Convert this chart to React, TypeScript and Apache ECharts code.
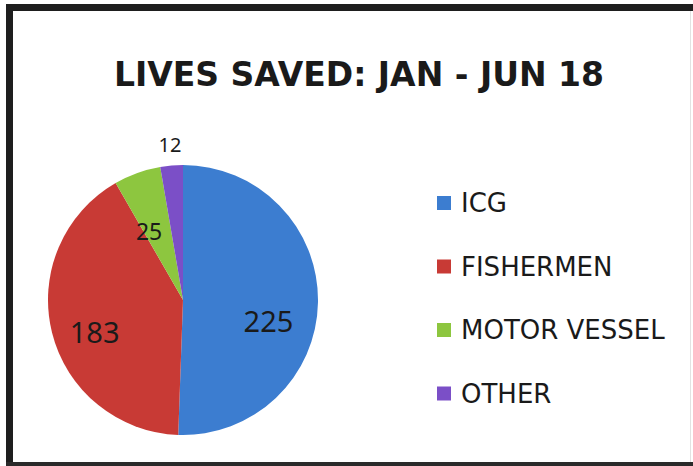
import React, { useEffect, useRef } from "react";
import * as echarts from "echarts";

const categories = ["ICG", "FISHERMEN", "MOTOR VESSEL", "OTHER"];
const values = [225, 183, 25, 12];
const colors = ["#3c7dd0", "#c83a35", "#8dc63f", "#7b4fc7"];
const titleText = "LIVES SAVED: JAN - JUN 18";

// label nudges (dx, dy) per slice, to mimic the original label placement
const labelShift = [
  [15, 19],
  [-20, 14],
  [-10, -3],
  [-7, -85],
];
const labelSizes = [29, 29, 23, 20];

export default function App() {
  const ref = useRef<HTMLDivElement>(null);
  useEffect(() => {
    const chart = echarts.init(ref.current!, null, { renderer: "svg" });
    chart.setOption({
      animation: false,
      backgroundColor: "#ffffff",
      title: {
        text: titleText,
        left: 354,
        textAlign: "center",
        top: 53,
        textStyle: {
          fontFamily: "DejaVu Sans",
          fontWeight: "bold",
          fontSize: 33,
          color: "#1a1a1a",
        },
      },
      graphic: [
        {
          type: "rect",
          shape: { x: 6, y: 4, width: 687, height: 7 },
          style: { fill: "#1e1e1e" },
          z: -10,
          silent: true,
        },
        {
          type: "rect",
          shape: { x: 6, y: 4, width: 7, height: 462 },
          style: { fill: "#1e1e1e" },
          z: -10,
          silent: true,
        },
        {
          type: "rect",
          shape: { x: 6, y: 462, width: 687, height: 4 },
          style: { fill: "#2a2a2a" },
          z: -10,
          silent: true,
        },
        {
          type: "line",
          shape: { x1: 690.5, y1: 11, x2: 690.5, y2: 462 },
          style: { stroke: "#e2e2e2", lineWidth: 1 },
          z: -10,
          silent: true,
        },
      ],
      legend: {
        orient: "vertical",
        left: 432,
        top: 183,
        itemWidth: 14,
        itemHeight: 14,
        itemGap: 33.5,
        icon: "rect",
        data: categories,
        textStyle: {
          fontFamily: "DejaVu Sans",
          fontSize: 26,
          lineHeight: 30,
          color: "#1a1a1a",
          padding: [0, 0, 0, 5],
        },
      },
      series: [
        {
          type: "pie",
          center: [183, 300],
          radius: [0, 135],
          startAngle: 90,
          clockwise: true,
          data: categories.map((c, i) => ({
            name: c,
            value: values[i],
            itemStyle: { color: colors[i] },
            label: { fontSize: labelSizes[i] },
          })),
          label: {
            show: true,
            position: "inside",
            formatter: "{c}",
            fontFamily: "Noto Sans",
            color: "#1a1a1a",
          },
          labelLine: { show: false },
          labelLayout: (p: any) => ({
            dx: labelShift[p.dataIndex][0],
            dy: labelShift[p.dataIndex][1],
          }),
          emphasis: { disabled: true },
        },
      ],
    });
    return () => chart.dispose();
  }, []);
  return (
    <div
      ref={ref}
      style={{ position: "fixed", left: 0, top: 0, width: 693, height: 466 }}
    />
  );
}
